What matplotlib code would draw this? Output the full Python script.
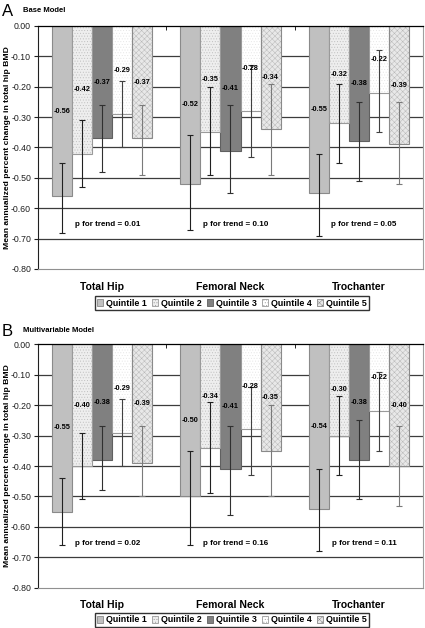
import matplotlib
matplotlib.use("Agg")
import matplotlib.pyplot as plt
from matplotlib.patches import Patch
import numpy as np

plt.rcParams["font.family"] = ["Liberation Sans", "DejaVu Sans"]
plt.rcParams["axes.unicode_minus"] = False
plt.rcParams["hatch.linewidth"] = 0.35

sites = ["Total Hip", "Femoral Neck", "Trochanter"]
quintiles = ["Quintile 1", "Quintile 2", "Quintile 3", "Quintile 4", "Quintile 5"]

# base model: mean, upper CI (closer to 0), lower CI, per quintile x site
base_mean = [[-0.56, -0.52, -0.55],
             [-0.42, -0.35, -0.32],
             [-0.37, -0.41, -0.38],
             [-0.29, -0.28, -0.22],
             [-0.37, -0.34, -0.39]]
base_hi = [[-0.45, -0.36, -0.42],
           [-0.31, -0.20, -0.19],
           [-0.26, -0.26, -0.25],
           [-0.18, -0.13, -0.08],
           [-0.26, -0.19, -0.25]]
base_lo = [[-0.68, -0.67, -0.69],
           [-0.53, -0.49, -0.45],
           [-0.48, -0.55, -0.51],
           [-0.40, -0.43, -0.35],
           [-0.49, -0.49, -0.52]]
base_p = ["0.01", "0.10", "0.05"]

multi_mean = [[-0.55, -0.50, -0.54],
              [-0.40, -0.34, -0.30],
              [-0.38, -0.41, -0.38],
              [-0.29, -0.28, -0.22],
              [-0.39, -0.35, -0.40]]
multi_hi = [[-0.44, -0.35, -0.41],
            [-0.29, -0.19, -0.17],
            [-0.27, -0.27, -0.25],
            [-0.18, -0.14, -0.09],
            [-0.27, -0.20, -0.27]]
multi_lo = [[-0.66, -0.66, -0.68],
            [-0.51, -0.49, -0.43],
            [-0.48, -0.56, -0.51],
            [-0.40, -0.43, -0.35],
            [-0.50, -0.50, -0.53]]
multi_p = ["0.02", "0.16", "0.11"]

yticks = [-0.8, -0.7, -0.6, -0.5, -0.4, -0.3, -0.2, -0.1, 0.0]
ytick_labels = ["-0.80", "-0.70", "-0.60", "-0.50", "-0.40", "-0.30", "-0.20", "-0.10", "0.00"]

face = ["#c0c0c0", "#eeeeee", "#808080", "#ffffff", "#e8e8e8"]
hatch = [None, "......", None, "......", "xxxxxx"]
hatch_col = [None, "#bcbcbc", None, "#e4e4e4", "#b8b8b8"]
edge = ["#8a8a8a", "#9a9a9a", "#606060", "#9a9a9a", "#8a8a8a"]
err_col = ["#202020", "#202020", "#303030", "#404040", "#7a7a7a"]

W, H = 425, 628
fig = plt.figure(figsize=(W / 100, H / 100), dpi=100)


def panel(rect, means, his, los, pvals, letter, title, leg_y, letter_y):
    ax = fig.add_axes(rect)
    x = np.arange(len(sites))
    bw = 0.156
    for i in range(5):
        pos = x + (i - 2) * bw
        m = np.array(means[i])
        if hatch[i]:
            ax.bar(pos, m, bw, color=face[i], hatch=hatch[i], edgecolor=hatch_col[i],
                   linewidth=0, zorder=2)
            ax.bar(pos, m, bw, fill=False, edgecolor=edge[i], linewidth=0.8, zorder=2.1)
        else:
            ax.bar(pos, m, bw, color=face[i], edgecolor=edge[i], linewidth=0.8, zorder=2)
        yerr = [m - np.array(los[i]), np.array(his[i]) - m]
        ax.errorbar(pos, m, yerr=yerr, fmt="none", ecolor=err_col[i], elinewidth=0.8,
                    capsize=2, capthick=0.8, zorder=3)
        for px, v in zip(pos, m):
            ax.text(px, v / 2, "%.2f" % v, ha="center", va="center", fontsize=5.3,
                    fontweight="bold", zorder=4)
    for j, p in enumerate(pvals):
        ax.text(x[j] + 0.04, -0.655, "p for trend = " + p, ha="center", va="center",
                fontsize=5.8, fontweight="bold", zorder=4)

    ax.set_xlim(-0.5, 2.5)
    ax.set_ylim(-0.8, 0)
    ax.set_yticks(yticks)
    ax.set_yticklabels(ytick_labels, fontsize=6.3)
    for t in yticks[1:-1]:
        ax.axhline(t, color="#3c3c3c", linewidth=0.9, zorder=1)
    ax.set_xticks(x)
    ax.set_xticklabels(sites, fontsize=7.5, fontweight="bold")
    ax.tick_params(axis="x", length=0, pad=9)
    ax.tick_params(axis="y", length=3, width=0.8, pad=2, colors="#202020")
    ax.set_xticks([0.5, 1.5], minor=True)
    ax.tick_params(axis="x", which="minor", top=True, bottom=False, direction="in", length=3)
    ax.spines["top"].set_color("black")
    ax.spines["top"].set_linewidth(0.9)
    ax.spines["left"].set_color("#202020")
    ax.spines["left"].set_linewidth(0.8)
    ax.spines["right"].set_color("#a0a0a0")
    ax.spines["bottom"].set_color("#909090")
    ax.set_ylabel("Mean annualized percent change in total hip BMD", fontsize=6.1,
                  fontweight="bold", va="center")
    ax.yaxis.set_label_coords(-30 / 385, 0.5)

    handles = [Patch(facecolor=face[i], hatch=hatch[i], edgecolor=edge[i], linewidth=0.6)
               for i in range(5)]
    fig.legend(handles, quintiles, loc="center", bbox_to_anchor=(0.545, leg_y), ncol=5,
               prop={"weight": "bold", "size": 6.4}, frameon=True,
               fancybox=False, edgecolor="black", handlelength=0.7, handleheight=0.7,
               handletextpad=0.3, columnspacing=0.6, borderpad=0.25, borderaxespad=0)
    fig.text(2 / W, 1 - letter_y / H, letter, fontsize=12, va="center", ha="left")
    fig.text(23 / W, 1 - (letter_y - 1) / H, title, fontsize=5.5, fontweight="bold",
             va="center", ha="left")
    return ax


panel([38 / W, 1 - 269 / H, 385 / W, 243 / H], base_mean, base_hi, base_lo, base_p,
      "A", "Base Model", 1 - 303 / H, 12)
panel([38 / W, 1 - 587.7 / H, 385 / W, 243.4 / H], multi_mean, multi_hi, multi_lo, multi_p,
      "B", "Multivariable Model", 1 - 620 / H, 331)

fig.savefig("out.png", dpi=100)
